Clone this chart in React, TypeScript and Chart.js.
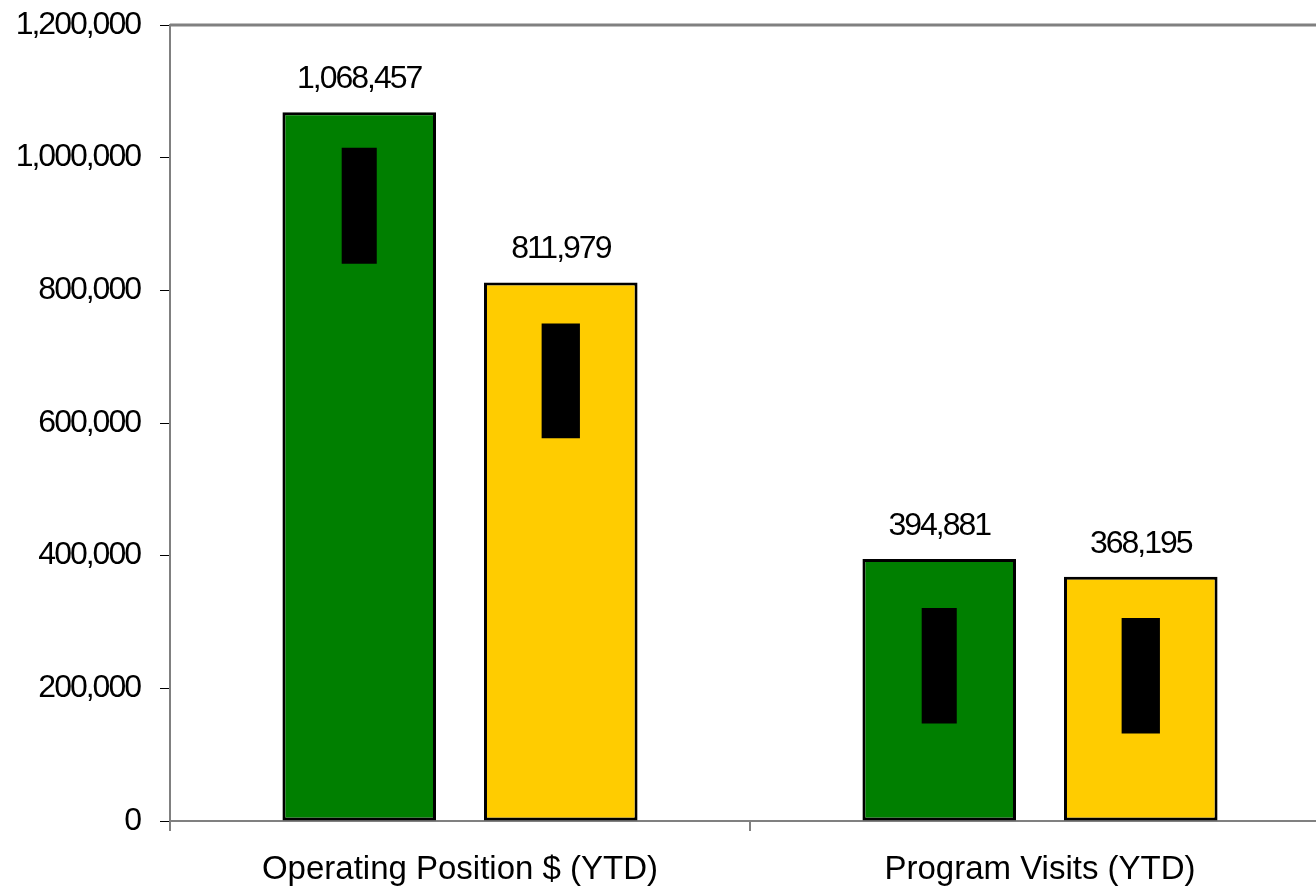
import React, { useEffect, useRef } from 'react';
import { Chart, registerables } from 'chart.js';

Chart.register(...registerables);

const categories = ['Operating Position $ (YTD)', 'Program Visits (YTD)'];
const greenValues = [1068457, 394881];
const yellowValues = [811979, 368195];
const greenRanges: [number, number][] = [[840000, 1015000], [147000, 321000]];
const yellowRanges: [number, number][] = [[577000, 750000], [132000, 306000]];
const yMin = 0;
const yMax = 1200000;
const yStep = 200000;

const FONT = '"Liberation Sans", Arial, sans-serif';

const fmt = (v: number) => Math.round(v).toLocaleString('en-US');

const decorPlugin = {
  id: 'decor',
  beforeDraw(chart: any) {
    chart.ctx.letterSpacing = '-2px';
  },
  afterDatasetsDraw(chart: any) {
    const ctx = chart.ctx;
    ctx.save();
    ctx.letterSpacing = '-2px';
    ctx.font = `32px ${FONT}`;
    ctx.fillStyle = '#000';
    ctx.textAlign = 'center';
    ctx.textBaseline = 'alphabetic';
    [2, 3].forEach((di) => {
      const meta = chart.getDatasetMeta(di);
      const vals = chart.data.datasets[di].data as number[];
      meta.data.forEach((bar: any, i: number) => {
        ctx.fillText(fmt(vals[i]), bar.x, bar.y - 24);
      });
    });
    ctx.restore();
  },
  afterDraw(chart: any) {
    const ctx = chart.ctx;
    const { left, right, top } = chart.chartArea;
    ctx.save();
    ctx.letterSpacing = '0px';
    ctx.strokeStyle = '#808080';
    ctx.lineWidth = 3;
    ctx.beginPath();
    ctx.moveTo(left, top);
    ctx.lineTo(right, top);
    ctx.stroke();
    const xs = chart.scales.x;
    ctx.font = `33px ${FONT}`;
    ctx.fillStyle = '#000';
    ctx.textAlign = 'center';
    ctx.textBaseline = 'alphabetic';
    categories.forEach((c, i) => {
      ctx.fillText(c, xs.getPixelForValue(i), 879);
    });
    ctx.restore();
    ctx.letterSpacing = '0px';
  },
};

export default function App() {
  const ref = useRef<HTMLCanvasElement | null>(null);

  useEffect(() => {
    if (!ref.current) return;
    const chart = new Chart(ref.current, {
      type: 'bar',
      data: {
        labels: categories,
        datasets: [
          {
            label: 'Green range',
            data: greenRanges as any,
            backgroundColor: '#000000',
            borderWidth: 0,
            stack: 'g',
            categoryPercentage: 0.695,
            barPercentage: 0.174,
            order: -1,
          },
          {
            label: 'Yellow range',
            data: yellowRanges as any,
            backgroundColor: '#000000',
            borderWidth: 0,
            stack: 'y',
            categoryPercentage: 0.695,
            barPercentage: 0.19,
            order: -1,
          },
          {
            label: 'Green',
            data: greenValues,
            backgroundColor: '#007F00',
            borderColor: '#000000',
            borderWidth: 3,
            borderSkipped: false,
            stack: 'g',
            categoryPercentage: 0.695,
            barPercentage: 0.762,
            order: 0,
          },
          {
            label: 'Yellow',
            data: yellowValues,
            backgroundColor: '#FFCC00',
            borderColor: '#000000',
            borderWidth: 3,
            borderSkipped: false,
            stack: 'y',
            categoryPercentage: 0.695,
            barPercentage: 0.762,
            order: 0,
          },
        ],
      },
      options: {
        responsive: false,
        animation: false,
        devicePixelRatio: 1,
        layout: { padding: { top: 25, left: 0, right: 10, bottom: 0 } },
        plugins: {
          legend: { display: false },
          tooltip: { enabled: false },
        },
        scales: {
          x: {
            type: 'category',
            offset: true,
            grid: {
              display: true,
              drawOnChartArea: false,
              drawTicks: true,
              tickLength: 10,
              color: '#808080',
              lineWidth: 2,
              offset: true,
            },
            border: { display: true, color: '#808080', width: 2 },
            ticks: { display: false },
            afterFit: (s: any) => {
              s.height = 68;
              s.paddingLeft = 0;
              s.paddingRight = 0;
            },
          },
          y: {
            stacked: false,
            min: yMin,
            max: yMax,
            grid: {
              display: true,
              drawOnChartArea: false,
              drawTicks: true,
              tickLength: 10,
              color: '#000000',
              lineWidth: 1,
            },
            border: { display: true, color: '#808080', width: 2 },
            ticks: {
              stepSize: yStep,
              padding: 20,
              color: '#000',
              font: { family: FONT, size: 32 },
              callback: (v: any) => fmt(Number(v)),
            },
            afterFit: (s: any) => {
              s.width = 170;
              s.paddingTop = 0;
              s.paddingBottom = 0;
            },
          },
        },
      },
      plugins: [decorPlugin],
    });
    return () => chart.destroy();
  }, []);

  return (
    <div
      style={{
        position: 'fixed',
        left: 0,
        top: 0,
        width: 1316,
        height: 889,
        overflow: 'hidden',
        background: '#fff',
      }}
    >
      <canvas ref={ref} width={1340} height={889} style={{ display: 'block', width: 1340, height: 889 }} />
    </div>
  );
}
